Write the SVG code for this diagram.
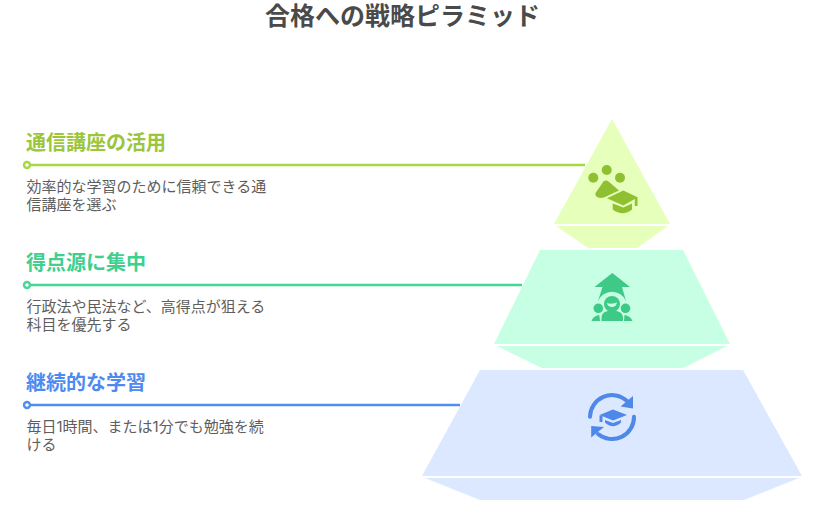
<svg xmlns="http://www.w3.org/2000/svg" width="828" height="515" viewBox="0 0 828 515">
<style>
text{font-family:"Noto Sans CJK JP","Noto Sans",sans-serif}
.title{font-size:25px;font-weight:700;fill:#4a4a4a}
.head{font-size:20px;font-weight:700}
.body{font-size:15px;fill:#5e5e5e;font-family:Inter,"Noto Sans CJK JP",sans-serif}
.l{stroke-width:2.5;fill:none}
.dot{fill:#fff;stroke-width:2.4}
.a{fill:#8fc031}.b{fill:#3ec987}.c{fill:#4e88e8}
.ca{fill:#9bc53d}.cb{fill:#3fcf8e}.cc{fill:#4d8bf0}
.ic{fill:none;stroke:#4e88e8;stroke-width:4;stroke-linecap:round}
</style>
<rect width="828" height="515" fill="#fff"/>
<text class="title" x="402.5" y="25" text-anchor="middle">合格への戦略ピラミッド</text>
<g id="tier-3">
<polygon points="480,370 743,370 802,476 422,476" fill="#dbe8ff"/>
<polygon points="425,478 799,478 744,500 480,500" fill="#dbe8ff"/>
<g id="icon-3">
<path class="ic" d="M590,416.7A22,22 0 0 1 627,401"/>
<path class="c" d="M633,396V408.5L620.5,406.5Z"/>
<path class="ic" d="M634,416.7A22,22 0 0 1 598,434"/>
<path class="c" d="M591.2,426L604,427L591.2,437.5Z"/>
<path class="c" d="M613,409.5L627,415L613,420.5L599.5,415Z"/>
<path class="c" d="M599.5,415.5H602.5V422H599.5Z"/>
<path class="c" d="M605,420L613,423L621,420V422.5Q613,430 605,422.5Z"/>
</g>
</g>
<g id="tier-2">
<polygon points="540,250 683,250 730,344 494,344" fill="#c6ffe4"/>
<polygon points="497,346 727,346 683,368 542,368" fill="#c6ffe4"/>
<g id="icon-2" class="b">
<path d="M612.3,273L630,287H622L626,301A15.2,15.2 0 0 0 598,301L602.5,287H594.5Z"/>
<circle cx="612" cy="304" r="8"/>
<path d="M601.5,321V317Q602,310.5 612,310.5Q622.5,310.5 623,317V321Z"/>
<circle cx="598.3" cy="308.3" r="4.8"/><circle cx="625.5" cy="308.3" r="4.8"/>
<path d="M591.5,321Q593,316 599.3,315L600,321Z"/><path d="M632.5,321Q630.5,316 624.5,315L624,321Z"/>
<path d="M606.7,303Q612,304.5 617,302.5Q616,307 612,307Q608,307 606.7,303Z" fill="#c6ffe4"/>
</g>
</g>
<g id="tier-1">
<polygon points="612,119 670,224 554,224" fill="#e6ffbb"/>
<polygon points="556,226 668,226 637,248 588,248" fill="#e6ffbb"/>
<g id="icon-1" class="a">
<circle cx="593.3" cy="177.7" r="5"/><circle cx="606.7" cy="170" r="5"/><circle cx="620" cy="177.7" r="5"/>
<path d="M603.5,181.5Q606,179.5 608.5,181.5L619,190.5L604,197.5L600,198Q594.5,197 595.5,193Z"/>
<path d="M607,198.3L623.3,190.5L637.5,197.3V206H634.8V199L623.3,205.5Z"/>
<path d="M612.7,203.5L623.3,207.5L632,203.5V209.5Q623,217 612.7,209.5Z"/>
</g>
</g>
<g id="connectors">
<line class="l" x1="27" y1="165" x2="585" y2="165" stroke="#a6d93f"/>
<circle class="dot" cx="27" cy="165" r="3" stroke="#a6d93f"/>
<line class="l" x1="27" y1="285" x2="522" y2="285" stroke="#44d694"/>
<circle class="dot" cx="27" cy="285" r="3" stroke="#44d694"/>
<line class="l" x1="27" y1="405" x2="460" y2="405" stroke="#4f8ff0"/>
<circle class="dot" cx="27" cy="405" r="3" stroke="#4f8ff0"/>
</g>
<g id="label-1">
<text class="head ca" x="26" y="150">通信講座の活用</text>
<text class="body" x="26.5" y="191.5">効率的な学習のために信頼できる通</text>
<text class="body" x="26.5" y="210">信講座を選ぶ</text>
</g>
<g id="label-2">
<text class="head cb" x="26" y="270">得点源に集中</text>
<text class="body" x="26.5" y="311.5">行政法や民法など、高得点が狙える</text>
<text class="body" x="26.5" y="330">科目を優先する</text>
</g>
<g id="label-3">
<text class="head cc" x="26" y="390">継続的な学習</text>
<text class="body" x="26.5" y="431.5">毎日1時間、または1分でも勉強を続</text>
<text class="body" x="26.5" y="450">ける</text>
</g>
</svg>
